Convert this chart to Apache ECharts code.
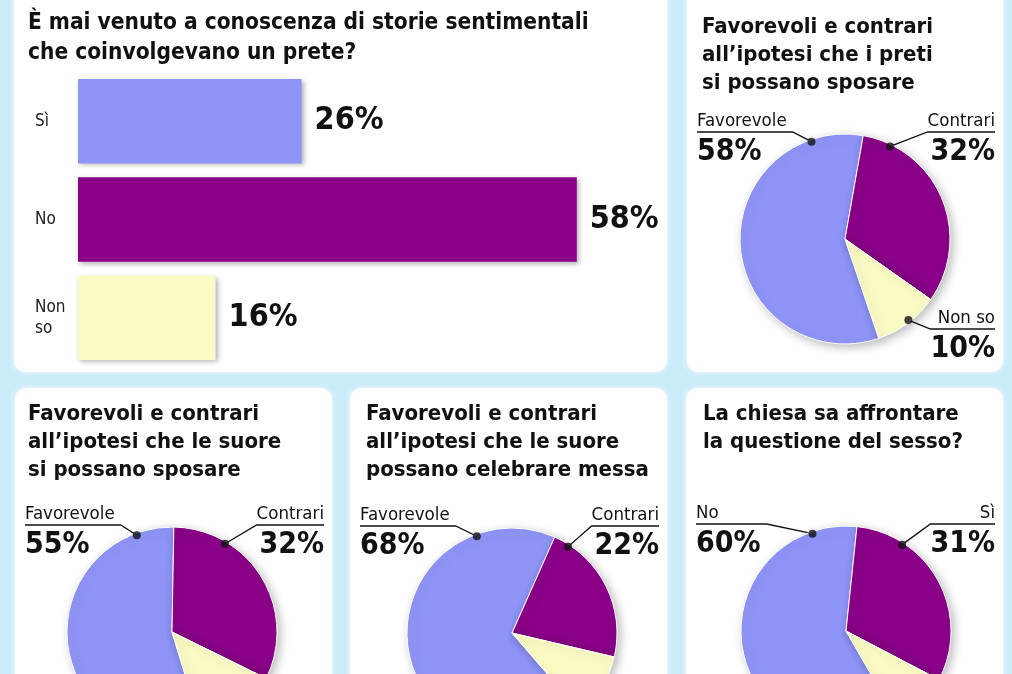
<!DOCTYPE html>
<html><head><meta charset="utf-8">
<script src="https://cdn.jsdelivr.net/npm/echarts@6/dist/echarts.min.js"></script>
<style>html,body{margin:0;padding:0;background:#c9ecf8;overflow:hidden}#c{width:1012px;height:674px}</style>
</head><body><div id="c"></div>
<script>
// ---------- data ----------
const barTitle = 'È mai venuto a conoscenza di storie sentimentali\nche coinvolgevano un prete?';
const barCategories = ['Sì', 'No', 'Non\nso'];
const barValues = [26, 58, 16];

const pie1Title = 'Favorevoli e contrari\nall\u2019ipotesi che i preti\nsi possano sposare';
const pie1Names = ['Favorevole', 'Contrari', 'Non so'];
const pie1Values = [58, 32, 10];

const pie2Title = 'Favorevoli e contrari\nall\u2019ipotesi che le suore\nsi possano sposare';
const pie2Names = ['Favorevole', 'Contrari', 'Non so'];
const pie2Values = [55, 32, 13];

const pie3Title = 'Favorevoli e contrari\nall\u2019ipotesi che le suore\npossano celebrare messa';
const pie3Names = ['Favorevole', 'Contrari', 'Non so'];
const pie3Values = [68, 22, 10];

const pie4Title = 'La chiesa sa affrontare\nla questione del sesso?';
const pie4Names = ['No', 'Sì', 'Non so'];
const pie4Values = [60, 31, 9];

// ---------- style / layout ----------
const FAMILY = "'DejaVu Sans Condensed'";
const NARROW = FAMILY + ",sans-serif";
const NAME_SIZE = 18.5, VAL_SIZE = 30;
const COLORS = ['#8f94f7', '#8a0088', '#fafac4'];
const R = 105;
const panels = [[14, -20, 653, 392], [687, -20, 316, 392], [15, 388, 317, 330], [350, 388, 317, 330], [686, 388, 317, 330]];
const pies = [
  { title: pie1Title, names: pie1Names, values: pie1Values, center: [845, 239], px: [687, 1003], tl: [697, 8], split: 10, anchors: [341, 26, 142] },
  { title: pie2Title, names: pie2Names, values: pie2Values, center: [172, 632], px: [15, 332], tl: [23, 395], split: 1, anchors: [340, 31, 142] },
  { title: pie3Title, names: pie3Names, values: pie3Values, center: [512, 633], px: [350, 667], tl: [361, 395], split: 24, anchors: [340, 33, 142] },
  { title: pie4Title, names: pie4Names, values: pie4Values, center: [846, 631], px: [686, 1003], tl: [698, 395], split: 6, anchors: [341, 33, 142] }
];

const mctx = document.createElement('canvas').getContext('2d');
function textW(str, size, bold) { mctx.font = (bold ? 'bold ' : '') + size + 'px ' + NARROW; return mctx.measureText(str).width; }
function pt(c, a, r) { const t = a * Math.PI / 180; return [c[0] + r * Math.sin(t), c[1] - r * Math.cos(t)]; }

const titleStyle = { fontFamily: NARROW, fontWeight: 'bold', fontSize: 22, lineHeight: 28, color: '#111' };

const option = {
  animation: false,
  backgroundColor: '#c9ecf8',
  graphic: panels.map(p => ({
    type: 'rect', z: -10, silent: true,
    shape: { x: p[0], y: p[1], width: p[2], height: p[3], r: 12 },
    style: { fill: '#ffffff', shadowBlur: 6, shadowColor: 'rgba(255,255,255,0.9)' }
  })),
  title: [
    { text: barTitle, left: 23, top: 3, textStyle: Object.assign({}, titleStyle, { fontSize: 22.5, lineHeight: 30 }) }
  ].concat(pies.map(p => ({ text: p.title, left: p.tl[0], top: p.tl[1], textStyle: titleStyle }))),
  grid: { left: 78, top: 72, width: 70 * 8.6, height: 295 },
  xAxis: { type: 'value', min: 0, max: 70, show: false },
  yAxis: {
    type: 'category', data: barCategories, inverse: true,
    axisLine: { show: false }, axisTick: { show: false },
    axisLabel: { align: 'left', margin: 43, fontFamily: NARROW, fontSize: 17, lineHeight: 21, color: '#222' }
  },
  polar: pies.map(p => ({ center: p.center, radius: R })),
  angleAxis: pies.map((p, i) => ({ polarIndex: i, type: 'value', min: 0, max: 360, startAngle: 90, clockwise: true, show: false })),
  radiusAxis: pies.map((p, i) => ({ polarIndex: i, type: 'value', min: 0, max: 1, show: false })),
  series: [
    {
      type: 'bar', barCategoryGap: '14%',
      data: barValues.map((v, i) => ({ value: v, itemStyle: { color: COLORS[i] } })),
      itemStyle: { shadowBlur: 5, shadowColor: 'rgba(0,0,0,0.3)', shadowOffsetX: 2, shadowOffsetY: 2 },
      label: { show: true, position: 'right', distance: 13, formatter: '{c}%', fontFamily: NARROW, fontWeight: 'bold', fontSize: 32, color: '#111' }
    }
  ].concat(pies.map((p, pi) => ({
    type: 'pie', center: p.center, radius: R, clockwise: true, avoidLabelOverlap: false,
    startAngle: 90 - p.split + 3.6 * p.values[0],
    data: p.names.map((n, i) => ({
      name: n, value: p.values[i], itemStyle: { color: COLORS[i] },
      label: { width: Math.ceil(Math.max(textW(n, NAME_SIZE, false), textW(p.values[i] + '%', VAL_SIZE, true))) + 2 }
    })),
    itemStyle: { borderColor: '#fff', borderWidth: 1, shadowBlur: 10, shadowColor: 'rgba(0,0,0,0.25)', shadowOffsetX: 3, shadowOffsetY: 3 },
    label: {
      show: true, overflow: 'none', formatter: '{n|{b}}\n{v|{c}%}',
      rich: {
        n: { fontFamily: NARROW, fontSize: NAME_SIZE, lineHeight: 22, color: '#111' },
        v: { fontFamily: NARROW, fontWeight: 'bold', fontSize: VAL_SIZE, lineHeight: 40, color: '#111' }
      }
    },
    labelLine: { show: true, lineStyle: { color: '#111', width: 1.3 } },
    labelLayout: function (params) {
      const i = params.dataIndex;
      const w = params.labelRect.width;
      const dot = pt(p.center, p.anchors[i], R - 2);
      if (i === 0) {
        const x = p.px[0] + 10, y = p.center[1] - 107;
        return { x: x, y: y - 22, align: 'left', verticalAlign: 'top', labelLinePoints: [dot, [x + w + 6, y], [x, y]] };
      }
      const x = p.px[1] - 8;
      const y = i === 1 ? p.center[1] - 107 : p.center[1] + 90;
      return { x: x, y: y - 22, align: 'right', verticalAlign: 'top', labelLinePoints: [dot, [x - w, y], [x, y]] };
    }
  }))).concat(pies.map((p, pi) => ({
    type: 'scatter', coordinateSystem: 'polar', polarIndex: pi, symbolSize: 8, z: 5,
    itemStyle: { color: '#111' }, silent: true,
    data: p.anchors.map(a => [0.98, a])
  })))
};
const chart = echarts.init(document.getElementById('c'));
chart.setOption(option);
</script>
</body></html>
